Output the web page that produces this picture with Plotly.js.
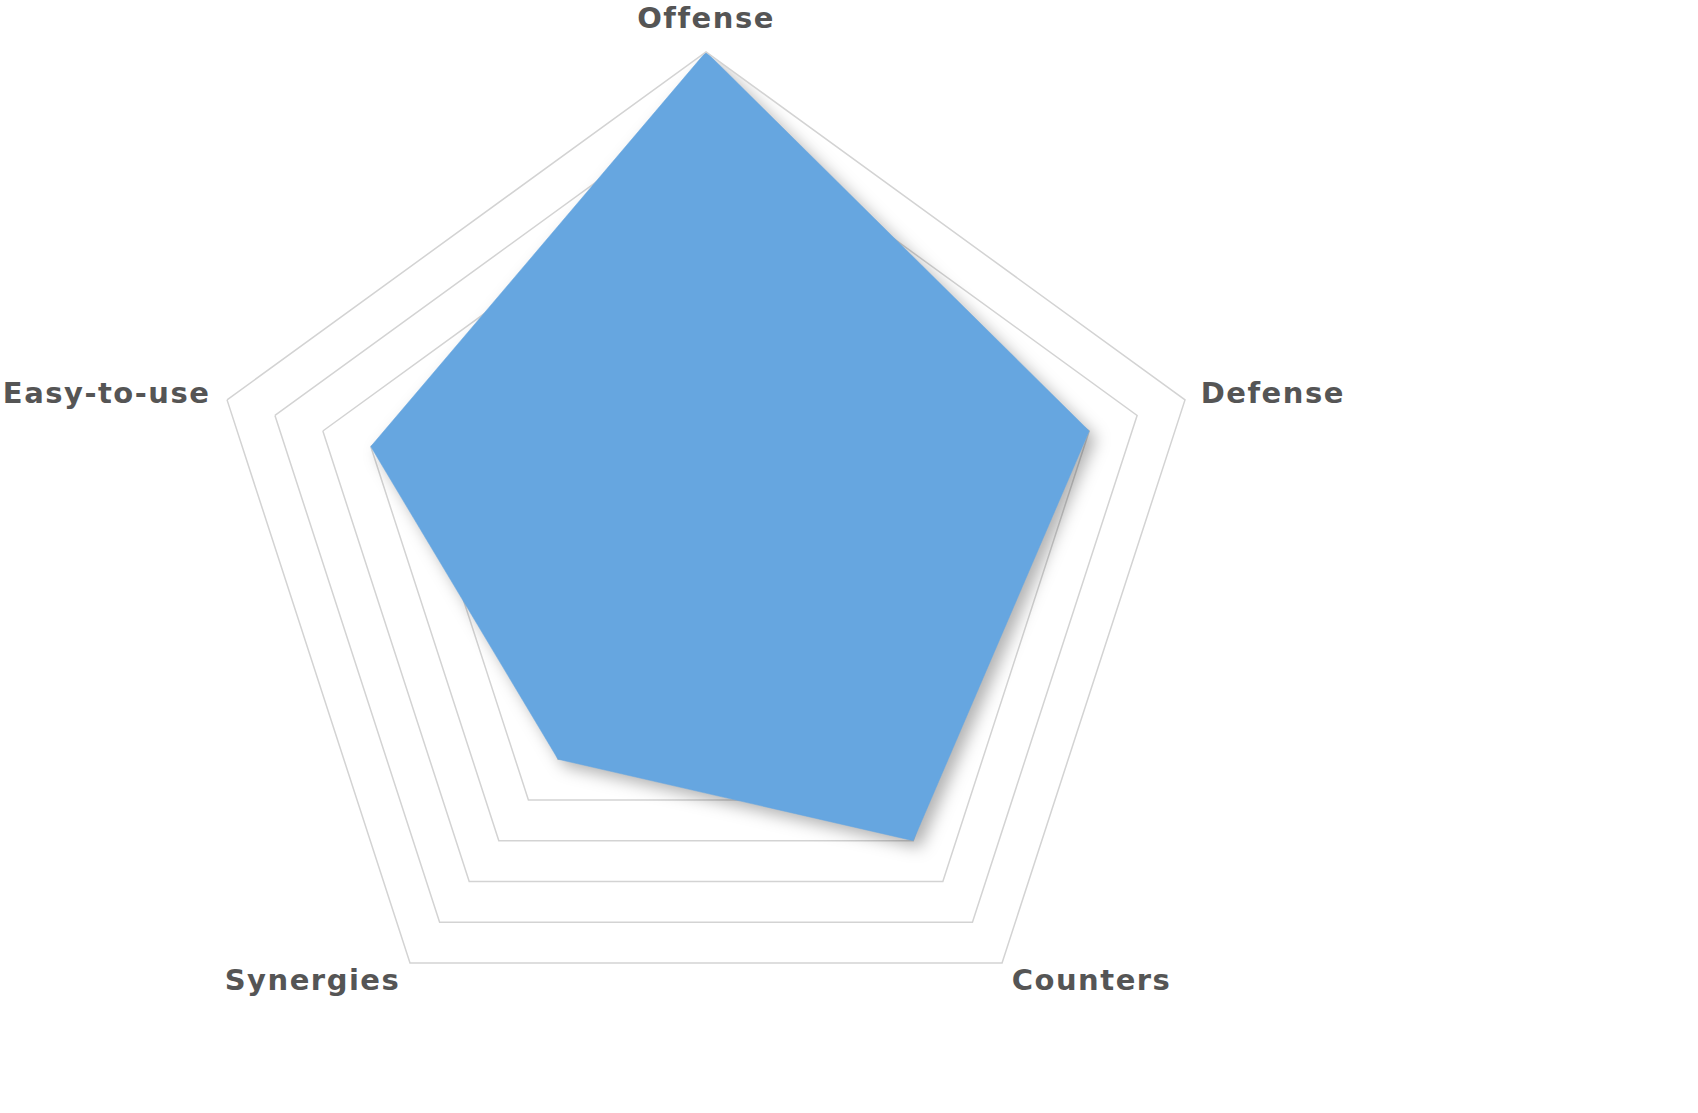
<!DOCTYPE html>
<html>
<head>
<meta charset="utf-8">
<script src="https://cdn.plot.ly/plotly-3.0.1.min.js"></script>
<style>
html,body{margin:0;padding:0;background:#fff;}
#chart{width:1698px;height:1113px;}
.polarlayer path.js-fill{filter:drop-shadow(7px 7px 8px rgba(0,0,0,0.3));}
.angularaxistick text{letter-spacing:1.5px;}
.angularaxistick:nth-of-type(1) text{translate:0 -2px;}
.angularaxistick:nth-of-type(3) text,.angularaxistick:nth-of-type(4) text{translate:0 -16px;}
.angularaxistick:nth-of-type(5) text{translate:-1px 0;}
</style>
</head>
<body>
<div id="chart"></div>
<script>
const categories = ["Offense", "Defense", "Counters", "Synergies", "Easy-to-use"];
const values = [10, 8, 7, 5, 7];
const radialMax = 10;

const r = values.concat([values[0]]);
const theta = categories.concat([categories[0]]);

const trace = {
  type: "scatterpolar",
  r: r,
  theta: theta,
  fill: "toself",
  fillcolor: "#66a6e0",
  mode: "lines",
  line: {color: "#66a6e0", width: 0.5},
  hoverinfo: "skip",
  showlegend: false
};

const layout = {
  width: 1698,
  height: 1113,
  margin: {l: 0, r: 0, t: 0, b: 0},
  paper_bgcolor: "#ffffff",
  showlegend: false,
  polar: {
    domain: {x: [0.1192, 0.7124], y: [0.0484, 0.9534]},
    gridshape: "linear",
    bgcolor: "rgba(0,0,0,0)",
    radialaxis: {
      range: [0, radialMax],
      dtick: 1,
      showticklabels: false,
      ticks: "",
      showline: false,
      gridcolor: "#d3d3d3",
      gridwidth: 1.5
    },
    angularaxis: {
      rotation: 90,
      direction: "clockwise",
      showgrid: false,
      showline: true,
      linecolor: "#d3d3d3",
      linewidth: 1.5,
      ticks: "outside",
      ticklen: 10,
      tickcolor: "rgba(0,0,0,0)",
      tickfont: {family: "DejaVu Sans", size: 29, color: "#555555", weight: "bold"}
    }
  }
};

Plotly.newPlot("chart", [trace], layout, {displayModeBar: false, staticPlot: true});
</script>
</body>
</html>
